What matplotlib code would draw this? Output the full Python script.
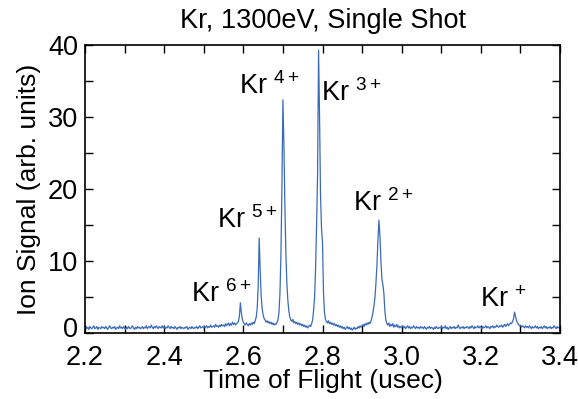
import numpy as np
import matplotlib
matplotlib.use("Agg")
import matplotlib.pyplot as plt
import matplotlib.transforms as mtransforms
from matplotlib.ticker import MultipleLocator, FormatStrFormatter

plt.rcParams['font.family'] = ['Liberation Sans', 'DejaVu Sans']
plt.rcParams['mathtext.fontset'] = 'custom'
plt.rcParams['mathtext.rm'] = 'Liberation Sans'
plt.rcParams['mathtext.it'] = 'Liberation Sans'

# Ion signal sampled every 0.0025 usec from 2.2 to 3.4 usec (rows of 20 samples = 0.05 usec)
signal = [
    0.7,0.9,0.6,0.8,0.5,0.9,0.7,0.6,0.8,1.0,0.6,0.7,0.9,0.5,0.8,0.7,0.6,0.9,0.7,0.8,   # 2.20
    0.6,0.9,0.7,0.5,0.8,1.0,0.7,0.6,0.8,0.7,0.9,0.5,0.7,0.8,0.6,1.0,0.7,0.8,0.6,0.9,   # 2.25
    0.7,0.5,0.8,0.6,0.9,0.7,0.6,0.8,1.0,0.7,0.5,0.8,0.6,0.9,0.7,0.8,0.6,0.7,0.9,0.6,   # 2.30
    0.8,0.7,1.0,0.6,0.8,0.9,0.7,1.1,0.8,0.6,0.9,0.7,1.0,0.8,0.6,0.9,0.8,0.7,1.0,0.7,   # 2.35
    0.9,0.6,0.8,0.7,1.0,0.8,0.6,0.9,0.7,0.8,0.6,0.9,0.7,0.5,0.8,0.7,0.9,0.6,0.8,0.7,   # 2.40
    0.6,0.8,0.7,0.9,0.5,0.7,0.8,0.6,0.9,0.7,0.6,0.8,0.7,0.9,0.6,0.8,1.0,0.7,0.8,0.9,   # 2.45
    0.7,0.9,0.8,1.0,0.7,0.9,0.8,1.1,0.8,0.9,1.0,0.8,1.2,0.9,1.0,0.8,1.1,0.9,1.2,1.0,   # 2.50
    1.1,0.9,1.3,1.0,1.2,1.4,1.0,1.3,1.1,1.5,1.2,1.4,1.1,1.3,1.4,1.6,2.3,4.2,2.8,1.9,   # 2.55
    1.5,1.3,1.1,1.4,1.2,1.0,1.3,1.1,1.4,1.2,1.5,1.3,1.7,2.2,3.4,6.5,13.2,8.8,5.2,3.4,  # 2.60
    2.5,2.0,1.8,1.5,1.7,1.4,1.6,1.3,1.5,1.2,1.4,1.1,1.3,1.2,1.5,1.8,2.9,5.5,11.0,20.5, # 2.65
    32.4,26.0,17.5,11.0,6.8,4.5,3.0,2.2,1.8,1.6,1.9,1.4,1.6,1.3,1.5,1.2,1.4,1.1,1.3,1.0,  # 2.70
    1.2,0.9,1.1,0.8,1.0,0.7,0.9,1.1,0.9,1.3,1.8,3.2,5.0,9.0,15.0,22.0,39.3,30.0,19.0,14.5,  # 2.75
    12.5,5.5,2.8,1.9,1.6,1.4,1.7,1.3,1.5,1.2,1.4,1.1,1.3,1.0,1.2,0.9,1.1,0.8,1.0,0.7,  # 2.80
    0.9,0.6,0.8,0.5,0.7,0.9,0.6,0.8,0.5,0.7,0.4,0.6,0.8,0.5,0.7,0.6,0.9,0.7,1.0,0.8,   # 2.85
    1.0,1.2,0.9,1.3,1.1,1.4,1.2,1.5,1.3,1.7,2.2,2.9,3.8,5.0,7.0,9.5,13.0,15.7,13.5,10.0,  # 2.90
    7.5,6.7,5.5,3.0,1.8,1.3,1.1,1.4,0.9,1.2,1.0,1.3,0.8,1.1,0.9,1.2,0.8,1.0,0.7,0.9,   # 2.95
    0.8,1.0,0.7,0.9,0.6,0.8,1.0,0.7,0.9,0.6,0.8,0.7,1.0,0.8,0.6,0.9,0.7,0.8,0.6,0.9,   # 3.00
    0.7,0.8,0.6,0.9,0.7,0.5,0.8,0.7,0.9,0.6,0.8,0.7,0.5,0.8,0.6,0.9,0.7,0.6,0.8,0.7,   # 3.05
    0.9,0.6,0.8,0.7,1.0,0.6,0.8,0.5,0.7,0.9,0.6,0.8,0.7,0.9,0.6,0.8,0.7,1.1,0.8,0.6,   # 3.10
    0.8,0.7,0.9,0.6,0.8,0.7,0.9,0.8,0.6,0.9,0.7,1.0,0.8,0.6,0.9,0.7,0.8,1.0,0.7,0.9,   # 3.15
    0.8,0.6,0.9,0.7,0.8,1.0,0.7,0.9,0.8,0.6,0.9,0.8,1.0,0.7,0.9,0.8,1.1,0.9,0.8,1.0,   # 3.20
    0.9,1.1,0.8,1.0,1.2,0.9,1.1,1.3,1.0,1.2,1.4,1.3,1.6,2.0,2.9,2.3,1.7,1.4,1.2,1.0,   # 3.25
    1.1,0.8,1.0,0.9,0.7,1.0,0.8,0.9,0.7,1.0,0.8,0.6,0.9,0.7,0.8,1.0,0.7,0.9,0.6,0.8,   # 3.30
    0.7,0.9,0.6,0.8,1.0,0.7,0.9,0.6,0.8,0.7,0.9,0.6,0.8,0.7,1.0,0.8,0.6,0.9,0.7,0.8,   # 3.35
    0.7,                                                                               # 3.40
]
tof_us = np.linspace(2.2, 3.4, len(signal))

# Peak labels: (label superscript, x, y)
ion_charges = ['6+', '5+', '4+', '3+', '2+', '+']
label_x = [2.468, 2.533, 2.590, 2.797, 2.877, 3.197]
label_y = [4.3, 14.6, 33.2, 32.2, 17.0, 3.6]

title = 'Kr, 1300eV, Single Shot'
xlabel = 'Time of Flight (usec)'
ylabel = 'Ion Signal (arb. units)'

fig = plt.figure(figsize=(5.78, 3.99), dpi=100)
ax = fig.add_axes([0.147, 0.1654, 0.822, 0.7216])
ax.plot(tof_us, signal, color='#3b6bb8', linewidth=0.9)

ax.set_xlim(2.2, 3.4)
ax.set_ylim(0, 40)
ax.xaxis.set_major_locator(MultipleLocator(0.2))
ax.xaxis.set_minor_locator(MultipleLocator(0.1))
ax.yaxis.set_major_locator(MultipleLocator(10))
ax.yaxis.set_minor_locator(MultipleLocator(5))
ax.xaxis.set_major_formatter(FormatStrFormatter('%.1f'))
ax.tick_params(which='both', direction='in', top=True, right=True,
               length=6, width=1.0, labelsize=19.5)
ax.tick_params(axis='x', pad=8.5)
ax.tick_params(axis='y', pad=5)
for s in ax.spines.values():
    s.set_linewidth(1.2)

for q, x, y in zip(ion_charges, label_x, label_y):
    ax.text(x, y, r'Kr $^{\mathrm{' + q + '}}$', fontsize=19.5, ha='left', va='baseline')

ax.set_title(title, fontsize=19.5, pad=12)
ax.set_xlabel(xlabel, fontsize=19, labelpad=-1)
ax.set_ylabel(ylabel, fontsize=19, labelpad=5)

# nudge the y-axis "0" label slightly upward so it does not collide with "2.2"
fig.canvas.draw()
lift = mtransforms.ScaledTranslation(0, 4 / 72, fig.dpi_scale_trans)
for tick in ax.yaxis.get_major_ticks():
    if tick.label1.get_text() == '0':
        tick.label1.set_transform(tick.label1.get_transform() + lift)

fig.savefig('out.png', dpi=100)
